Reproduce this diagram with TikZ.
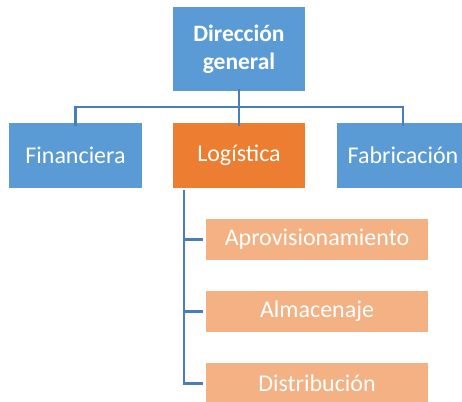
\documentclass[tikz,border=0pt]{standalone}
\usepackage{fontspec}
\setmainfont{Carlito}
\definecolor{boxblue}{HTML}{5B9BD5}
\definecolor{boxorange}{HTML}{ED7D31}
\definecolor{boxlight}{HTML}{F4B183}
\definecolor{linkblue}{HTML}{4A7EBB}
\begin{document}
\begin{tikzpicture}[x=1pt,y=-1pt,
  box/.style={draw=white,line width=0.8pt,text=white,inner sep=0pt,align=center,font=\fontsize{24}{28}\selectfont},
  link/.style={draw=linkblue,line width=2.2pt}]
\useasboundingbox (0,0) rectangle (462,401);
\node[box,fill=boxblue,minimum width=133pt,minimum height=85pt,font=\fontsize{23.5}{27.5}\selectfont\bfseries] (dg) at (239,49) {Dirección\\general};
\node[box,fill=boxblue,minimum width=134pt,minimum height=66pt] (fin) at (75.5,155.5) {Financiera};
\node[box,fill=boxorange,minimum width=133pt,minimum height=66pt] (log) at (239,155.5) {Logística};
\node[box,fill=boxblue,minimum width=134pt,minimum height=66pt] (fab) at (403,155.5) {Fabricación};
\node[box,fill=boxlight,minimum width=223pt,minimum height=42pt] (apr) at (317,239.5) {Aprovisionamiento};
\node[box,fill=boxlight,minimum width=223pt,minimum height=42pt] (alm) at (317,311.5) {Almacenaje};
\node[box,fill=boxlight,minimum width=223pt,minimum height=42pt] (dis) at (317,383.5) {Distribución};
\coordinate (bus) at (239,107);
\draw[link] ([yshift=3pt]dg.south) -- (bus);
\draw[link] ([yshift=-4pt]fin.north) |- (bus) -| ([yshift=-4pt]fab.north);
\draw[link] (bus) -- ([yshift=-4pt]log.north);
\coordinate (spine) at (184,190);
\draw[link] (spine) |- ([xshift=-2pt]dis.west);
\draw[link] (spine |- apr.west) -- ([xshift=-2pt]apr.west);
\draw[link] (spine |- alm.west) -- ([xshift=-2pt]alm.west);
\end{tikzpicture}
\end{document}
